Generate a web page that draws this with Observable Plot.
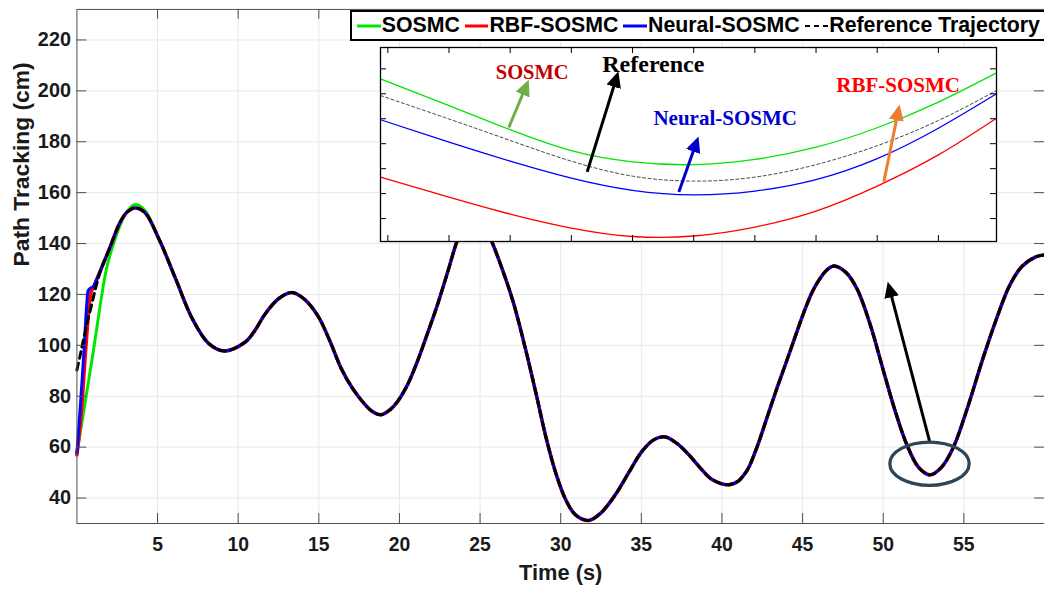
<!DOCTYPE html>
<html><head><meta charset="utf-8">
<script src="https://cdn.jsdelivr.net/npm/d3@7"></script>
<script src="https://cdn.jsdelivr.net/npm/@observablehq/plot@0.6"></script>
<style>
html,body{margin:0;padding:0;background:#fff;overflow:hidden;}
#wrap{position:relative;width:1044px;height:589px;overflow:hidden;font-family:"Liberation Sans",Arial,sans-serif;}
#main{position:absolute;left:0;top:0;}
#inset{position:absolute;left:379px;top:46.3px;}
#legend{position:absolute;left:350px;top:10px;width:688px;height:27px;padding-left:5px;border:2px solid #000;background:#fff;display:flex;align-items:center;font-weight:bold;font-size:21.3px;color:#000;white-space:nowrap;}
#legend .sw{display:block;margin-right:1px;}
#legend .lb{margin-right:5px;}
</style></head>
<body><div id="wrap"><div id="main"></div><div id="inset"></div><div id="legend"></div></div>
<script>
// ---------- data ----------
const seriesNames = ["SOSMC", "RBF-SOSMC", "Neural-SOSMC", "Reference Trajectory"];
const seriesColors = ["#00e600", "#ff0000", "#0000ff", "#000000"];
const xTicks = [5, 10, 15, 20, 25, 30, 35, 40, 45, 50, 55];
const yTicks = [40, 60, 80, 100, 120, 140, 160, 180, 200, 220];
const xDomain = [0, 60];
const yDomain = [30, 232];

// tracking phase shared by all controllers (time s, path cm)
const trackT = [1.5,2.0,2.65,3.1,3.6,4.2,5.1,6.13,7.16,8.18,9.15,10.44,11.0,11.67,12.5,13.31,14.1,14.95,15.7,16.39,17.1,17.83,18.3,18.85,19.4,19.88,20.5,21.1,21.7,22.34,23.0,23.57,24.1,24.6,25.1,25.72,26.4,27.06,27.8,28.49,29.1,29.72,30.3,30.9,31.73,32.5,33.42,34.2,35.06,35.8,36.49,37.2,37.93,38.7,39.36,40.39,41.0,41.3,41.62,42.2,42.85,43.4,43.88,44.49,45.11,45.6,46.0,46.5,46.95,47.7,48.39,49.2,50.03,50.75,51.46,52.2,52.9,53.6,54.34,55.2,56.18,57.0,57.83,58.6,59.46,60.0];
const trackV = [130,137.7,148,152.3,154,152.3,141.6,126,110.4,100.7,97.8,101.3,105.5,112.3,118.3,120.8,118.2,111.5,101.5,90.9,83,77,74.1,72.7,74.6,77.9,84.5,93.5,104,115.6,129,140.9,148.5,151.5,149.5,140.9,129.5,116.9,99,80.5,63.5,49.3,39.5,33.5,31.2,34.2,41.6,49.8,58.5,63,64,61.5,57.1,51.5,47.4,45.2,46.6,48.6,51.5,60.5,72.7,83,91.5,102.5,113.5,121,125.5,129.6,131.2,128.6,122,108,89.6,74,61,52,49.1,52,59.8,75,94.8,110,123.4,131,134.8,135.5];

// initial transients
const sosmcStartT = [0, 1.0, 1.83, 2.3, 2.65, 3.0, 3.57, 4.2];
const sosmcStartV = [57.5, 97, 130, 140.5, 146.7, 151.5, 155.3, 153.2];
const rbfStartT = [0, 0.25, 0.55, 0.75, 0.88, 1.0, 1.2];
const rbfStartV = [57, 72, 99, 115, 121, 122.5, 125.5];
const neuralStartT = [0, 0.2, 0.43, 0.62, 0.7, 0.85, 1.0, 1.2];
const neuralStartV = [57.8, 75, 97, 117, 121.5, 122.5, 123, 125.5];
const refStartT = [0, 0.2, 0.4, 0.7, 1.0, 1.2];
const refStartV = [90.3, 96, 102, 110.5, 118.3, 123.5];

// inset (zoomed view, arbitrary units)
const insetXDomain = [-0.12, 9.95];
const insetYDomain = [-0.92, 6.856];
const insetXTicks = [0, 1, 2, 3, 4, 5, 6, 7, 8, 9];
const insetYTicks = [0, 1, 2, 3, 4, 5, 6];
const insetX = [-0.12, 1, 2, 3, 4, 5, 6, 7, 8, 9, 9.95];
const insetSOSMC = [5.6, 4.53, 3.56, 2.72, 2.27, 2.16, 2.37, 2.86, 3.64, 4.67, 5.84];
const insetRBF = [1.66, 0.86, 0.18, -0.38, -0.72, -0.7, -0.34, 0.3, 1.3, 2.55, 4.02];
const insetNeural = [3.96, 3.06, 2.3, 1.62, 1.13, 0.95, 1.1, 1.56, 2.4, 3.62, 5.0];
const insetRef = [4.93, 3.99, 3.13, 2.3, 1.7, 1.5, 1.66, 2.16, 2.92, 3.93, 5.13];

// inset annotations
const insetLabelText = ["SOSMC", "Reference", "Neural-SOSMC", "RBF-SOSMC"];
const insetLabelX = [2.36, 4.34, 5.515, 8.343];
const insetLabelY = [5.585, 5.878, 3.742, 5.076];
const insetLabelColor = ["#c00000", "#000000", "#0000cc", "#ff0000"];
const insetLabelSize = [20.5, 24, 21, 21];
const insetArrowX1 = [1.977, 3.259, 4.757, 8.108];
const insetArrowY1 = [3.65, 1.87, 1.068, 1.469];
const insetArrowX2 = [2.278, 3.75, 5.057, 8.353];
const insetArrowY2 = [5.413, 5.746, 3.141, 4.411];
const insetArrowColor = ["#70ad47", "#000000", "#0000cc", "#ed7d31"];

// main-plot annotation
const mainArrow = {x1: 52.9, y1: 61.7, x2: 50.34, y2: 123.5};
const ellipseCenter = [52.9, 53.3];
const ellipseRadii = [2.46, 8.5];

// ---------- build ----------
function series(startT, startV) {
  const last = startT[startT.length - 1];
  const pts = startT.map((t, i) => ({t, v: startV[i]}));
  trackT.forEach((t, i) => { if (t > last) pts.push({t, v: trackV[i]}); });
  return pts;
}
const mainSeries = [
  series(sosmcStartT, sosmcStartV),
  series(rbfStartT, rbfStartV),
  series(neuralStartT, neuralStartV),
  series(refStartT, refStartV)
];

const W = 1052, H = 589, mL = 77, mR = 0, mT = 9, mB = 62;
const fW = W - mL - mR, fH = H - mT - mB;
const axisColor = "#4d4d4d", gridColor = "#e8e8e8";
const mainCurve = "catmull-rom";

const mainPlot = Plot.plot({
  width: W, height: H, marginLeft: mL, marginRight: mR, marginTop: mT, marginBottom: mB,
  style: {fontFamily: '"Liberation Sans", Arial, sans-serif', fontWeight: "bold", color: "#1a1a1a", background: "transparent", overflow: "visible"},
  x: {domain: xDomain},
  y: {domain: yDomain},
  marks: [
    Plot.ruleX(xTicks, {x: d => d, stroke: gridColor}),
    Plot.ruleY(yTicks, {y: d => d, stroke: gridColor}),
    Plot.line(mainSeries[0], {x: "t", y: "v", stroke: seriesColors[0], strokeWidth: 3, curve: mainCurve}),
    Plot.line(mainSeries[1], {x: "t", y: "v", stroke: seriesColors[1], strokeWidth: 3.6, curve: mainCurve}),
    Plot.line(mainSeries[2], {x: "t", y: "v", stroke: seriesColors[2], strokeWidth: 3, curve: mainCurve}),
    Plot.line(mainSeries[3], {x: "t", y: "v", stroke: seriesColors[3], strokeWidth: 3, strokeDasharray: "7,5", curve: mainCurve}),
    Plot.frame({stroke: axisColor}),
    Plot.tickX(xTicks, {x: d => d, insetTop: fH - 10, stroke: axisColor}),
    Plot.tickX(xTicks, {x: d => d, insetBottom: fH - 10, stroke: axisColor}),
    Plot.tickY(yTicks, {y: d => d, insetRight: fW - 10, stroke: axisColor}),
    Plot.tickY(yTicks, {y: d => d, insetLeft: fW - 10, stroke: axisColor}),
    Plot.axisX(xTicks, {tickSize: 0, tickPadding: 14, fontSize: 19.5, label: null}),
    Plot.axisY(yTicks, {tickSize: 0, tickPadding: 6, fontSize: 20, label: null}),
    Plot.text(["Time (s)"], {frameAnchor: "bottom", lineAnchor: "bottom", dy: 56.5, fontSize: 22, fill: "#1a1a1a"}),
    Plot.text(["Path Tracking (cm)"], {frameAnchor: "left", rotate: -90, lineAnchor: "bottom", dx: -48.5, fontSize: 23, fill: "#1a1a1a"}),
    Plot.link([mainArrow], {x1: "x1", y1: "y1", x2: "x2", y2: "y2", stroke: "#000", strokeWidth: 3})
  ]
});
document.getElementById("main").appendChild(mainPlot);

// inset plot
const insetRows = (ys) => insetX.map((x, i) => ({x, y: ys[i]}));
const insetLabels = insetLabelText.map((text, i) => ({text, x: insetLabelX[i], y: insetLabelY[i], color: insetLabelColor[i], size: insetLabelSize[i]}));
const insetArrows = insetArrowX1.map((x1, i) => ({x1, y1: insetArrowY1[i], x2: insetArrowX2[i], y2: insetArrowY2[i], color: insetArrowColor[i]}));
const iW = 618, iH = 196, iM = 1;
const ifW = iW - 2 * iM, ifH = iH - 2 * iM;
const insetCurve = "natural";
const insetPlot = Plot.plot({
  width: iW, height: iH, margin: iM,
  style: {background: "#fff", overflow: "visible"},
  x: {domain: insetXDomain, axis: null},
  y: {domain: insetYDomain, axis: null},
  marks: [
    Plot.line(insetRows(insetSOSMC), {x: "x", y: "y", stroke: seriesColors[0], strokeWidth: 1.3, curve: insetCurve}),
    Plot.line(insetRows(insetRef), {x: "x", y: "y", stroke: "#444", strokeWidth: 1, strokeDasharray: "3,2.5", curve: insetCurve}),
    Plot.line(insetRows(insetNeural), {x: "x", y: "y", stroke: seriesColors[2], strokeWidth: 1.3, curve: insetCurve}),
    Plot.line(insetRows(insetRBF), {x: "x", y: "y", stroke: seriesColors[1], strokeWidth: 1.3, curve: insetCurve}),
    Plot.frame({stroke: "#000", strokeWidth: 1.3}),
    Plot.tickX(insetXTicks, {x: d => d, insetTop: ifH - 6, stroke: "#000"}),
    Plot.tickX(insetXTicks, {x: d => d, insetBottom: ifH - 6, stroke: "#000"}),
    Plot.tickY(insetYTicks, {y: d => d, insetRight: ifW - 6, stroke: "#000"}),
    Plot.tickY(insetYTicks, {y: d => d, insetLeft: ifW - 6, stroke: "#000"}),
    Plot.link(insetArrows, {x1: "x1", y1: "y1", x2: "x2", y2: "y2", stroke: d => d.color, strokeWidth: 3}),
    Plot.text(insetLabels, {x: "x", y: "y", text: "text", fill: d => d.color, fontSize: d => d.size, lineAnchor: "bottom", fontFamily: '"Liberation Serif", "Times New Roman", serif', fontWeight: "bold"})
  ]
});
document.getElementById("inset").appendChild(insetPlot);

// filled arrow heads
let markerCount = 0;
function addArrowHeads(svg) {
  const s = d3.select(svg);
  const defs = s.append("defs");
  s.selectAll('g[aria-label="link"] path').each(function () {
    const color = this.getAttribute("stroke") || this.parentNode.getAttribute("stroke") || "#000";
    const id = "arrowhead" + (markerCount++);
    defs.append("marker").attr("id", id).attr("viewBox", "0 -8 16 16")
      .attr("markerUnits", "userSpaceOnUse").attr("markerWidth", 16).attr("markerHeight", 16)
      .attr("refX", 12).attr("refY", 0).attr("orient", "auto")
      .append("path").attr("d", "M0,-7.5L16,0L0,7.5Z").attr("fill", color);
    this.setAttribute("marker-end", `url(#${id})`);
  });
}
addArrowHeads(mainPlot);
addArrowHeads(insetPlot);

// ellipse highlighting the zoomed region
{
  const sx = mainPlot.scale("x"), sy = mainPlot.scale("y");
  const cx = sx.apply(ellipseCenter[0]), cy = sy.apply(ellipseCenter[1]);
  const rx = sx.apply(ellipseCenter[0] + ellipseRadii[0]) - cx;
  const ry = cy - sy.apply(ellipseCenter[1] + ellipseRadii[1]);
  d3.select(mainPlot).append("ellipse").attr("cx", cx).attr("cy", cy).attr("rx", rx).attr("ry", ry)
    .attr("fill", "none").attr("stroke", "#2e4457").attr("stroke-width", 3.3);
}

// legend
const legend = document.getElementById("legend");
seriesNames.forEach((name, i) => {
  const sw = document.createElementNS("http://www.w3.org/2000/svg", "svg");
  sw.setAttribute("width", 24); sw.setAttribute("height", 10); sw.setAttribute("class", "sw");
  const ln = document.createElementNS("http://www.w3.org/2000/svg", "line");
  ln.setAttribute("x1", 0); ln.setAttribute("x2", 24); ln.setAttribute("y1", 5); ln.setAttribute("y2", 5);
  ln.setAttribute("stroke", seriesColors[i]);
  ln.setAttribute("stroke-width", i === 3 ? 2 : 3);
  if (i === 3) ln.setAttribute("stroke-dasharray", "5,4");
  sw.appendChild(ln);
  legend.appendChild(sw);
  const lb = document.createElement("span");
  lb.className = "lb"; lb.textContent = name;
  legend.appendChild(lb);
});
</script>
</body></html>
